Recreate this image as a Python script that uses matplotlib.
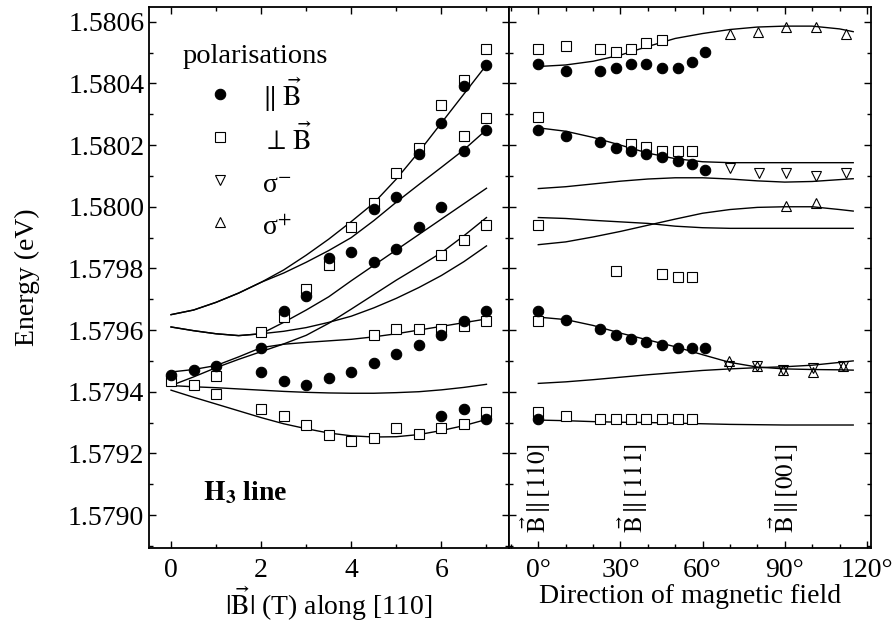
import numpy as np
import matplotlib
matplotlib.use("Agg")
import matplotlib.pyplot as plt
from matplotlib.ticker import MultipleLocator, FixedLocator

plt.rcParams['font.family'] = ['Liberation Serif', 'DejaVu Serif']
plt.rcParams['mathtext.fontset'] = 'stix'

# ---------------- left panel: field along [110] ----------------
field_grid = [0, 0.5, 1, 1.5, 2, 2.5, 3, 3.5, 4, 4.5, 5, 5.5, 6, 6.5, 7]

curve_a1 = [1.57965, 1.579665, 1.57969, 1.57972, 1.579755, 1.579795, 1.579843, 1.579895,
            1.579952, 1.580012, 1.58009, 1.580178, 1.580272, 1.580366, 1.58046]
curve_a2 = [1.57965, 1.579665, 1.57969, 1.57972, 1.579755, 1.579785, 1.57982, 1.579858,
            1.5799, 1.579955, 1.580015, 1.580072, 1.580128, 1.580185, 1.58025]
curve_s = [1.57961, 1.579598, 1.579588, 1.579582, 1.579588, 1.579625, 1.579665, 1.579708,
           1.57976, 1.57981, 1.57986, 1.57991, 1.57996, 1.58001, 1.58006]
curve_b2 = [1.57961, 1.579598, 1.579588, 1.579582, 1.579588, 1.579596, 1.579608, 1.579625,
            1.579645, 1.579672, 1.579703, 1.579738, 1.579777, 1.579822, 1.579873]
curve_r1 = [1.57942, 1.579448, 1.579478, 1.579505, 1.57953, 1.579555, 1.579583, 1.579622,
            1.579668, 1.579715, 1.579762, 1.579806, 1.579851, 1.579906, 1.579965]
curve_p = [1.579464, 1.579472, 1.579485, 1.579513, 1.579543, 1.579554, 1.57956, 1.579565,
           1.57957, 1.579578, 1.579588, 1.5796, 1.579612, 1.579624, 1.579636]
curve_e = [1.57942, 1.579416, 1.579413, 1.579409, 1.579405, 1.579401, 1.579398, 1.579396,
           1.579395, 1.579395, 1.579397, 1.5794, 1.579406, 1.579414, 1.579424]
curve_f = [1.579405, 1.579382, 1.57936, 1.579338, 1.579316, 1.579296, 1.57928, 1.579266,
           1.579257, 1.579253, 1.579254, 1.579261, 1.579274, 1.57929, 1.57931]
left_curves = [curve_a1, curve_a2, curve_s, curve_b2, curve_r1, curve_p, curve_e, curve_f]

par_field = [0, 0.5, 1, 2, 2, 2.5, 2.5, 3, 3, 3.5, 3.5, 4, 4,
             4.5, 4.5, 4.5, 5, 5, 5, 5.5, 5.5, 5.5,
             6, 6, 6, 6, 6.5, 6.5, 6.5, 6.5, 7, 7, 7, 7]
par_energy = [1.579453, 1.579472, 1.579484, 1.579542, 1.579464, 1.579663, 1.579434,
              1.579712, 1.579423, 1.579833, 1.579443, 1.579852, 1.579464,
              1.579992, 1.57982, 1.579493, 1.580032, 1.579863, 1.579521,
              1.580172, 1.579933, 1.579553,
              1.580272, 1.58, 1.579583, 1.579322,
              1.580392, 1.58018, 1.579631, 1.579343,
              1.58046, 1.58025, 1.579661, 1.579311]

perp_field = [0, 0.5, 1, 1, 2, 2, 2.5, 2.5, 3, 3, 3.5, 3.5, 4, 4,
              4.5, 4.5, 4.5, 5, 5, 5, 5.5, 5.5, 5.5,
              6, 6, 6, 6, 6.5, 6.5, 6.5, 6.5, 6.5, 7, 7, 7, 7, 7]
perp_energy = [1.579434, 1.579423, 1.579451, 1.579391, 1.579594, 1.579343,
               1.579642, 1.579322, 1.579733, 1.579292, 1.579811, 1.57926,
               1.579933, 1.579241,
               1.580013, 1.579583, 1.579251, 1.58011, 1.579602, 1.579281,
               1.580191, 1.579602, 1.579262,
               1.580331, 1.579842, 1.579604, 1.579283,
               1.580412, 1.580231, 1.579892, 1.579613, 1.579294,
               1.580511, 1.580288, 1.57994, 1.579631, 1.579333]

# ---------------- right panel: field direction ----------------
angle_grid = [0, 10, 20, 30, 40, 50, 60, 70, 80, 90, 100, 110, 115]
curve_t1 = [1.580455, 1.58046, 1.580472, 1.580492, 1.58052, 1.580546, 1.580562, 1.580575,
            1.580583, 1.580586, 1.580586, 1.580577, 1.580568]
curve_t2 = [1.580256, 1.580245, 1.580225, 1.5802, 1.580174, 1.580156, 1.580146, 1.580143,
            1.580143, 1.580143, 1.580143, 1.580143, 1.580143]
curve_t3 = [1.580059, 1.580065, 1.580074, 1.580083, 1.58009, 1.580094, 1.580094, 1.58009,
            1.580084, 1.58008, 1.580082, 1.580088, 1.580091]
curve_u = [1.579965, 1.579962, 1.579956, 1.579951, 1.579946, 1.579937, 1.579932, 1.57993,
           1.57993, 1.57993, 1.57993, 1.57993, 1.57993]
curve_v = [1.579877, 1.579886, 1.579902, 1.57992, 1.57994, 1.57996, 1.579979, 1.579991,
           1.579998, 1.58, 1.58, 1.579991, 1.579986]
curve_w = [1.579642, 1.579634, 1.579615, 1.57959, 1.579568, 1.579546, 1.57952, 1.579495,
           1.57948, 1.579474, 1.579472, 1.579471, 1.57947]
curve_x = [1.579427, 1.579432, 1.579439, 1.579447, 1.579455, 1.579462, 1.579469, 1.579474,
           1.579478, 1.579481, 1.579486, 1.579495, 1.5795]
curve_y = [1.579308, 1.579306, 1.579303, 1.579301, 1.5793, 1.579298, 1.579296, 1.579294,
           1.579293, 1.579292, 1.579292, 1.579292, 1.579292]
right_curves = [curve_t1, curve_t2, curve_t3, curve_u, curve_v, curve_w, curve_x, curve_y]

rpar_angle = [0, 10, 22.7, 28.2, 34, 39.2, 45, 51, 56, 61,
              0, 10, 22.7, 28.2, 34, 39.2, 45, 51, 56, 61,
              0, 10, 22.7, 28.2, 34, 39.2, 45, 51, 56, 61, 0]
rpar_energy = [1.580462, 1.580441, 1.580441, 1.580451, 1.580462, 1.580462, 1.580451, 1.580451, 1.580471, 1.580501,
               1.58025, 1.580231, 1.58021, 1.580189, 1.58018, 1.58017, 1.580161, 1.58015, 1.58014, 1.580119,
               1.579663, 1.579633, 1.579602, 1.579583, 1.579572, 1.579561, 1.579553, 1.579542, 1.579542, 1.579542,
               1.579311]

rperp_angle = [0, 10, 22.7, 28.2, 34, 39.2, 45,
               0, 34, 39.2, 45, 51, 56,
               0, 28.2, 45, 51, 56,
               0,
               0, 10, 22.7, 28.2, 34, 39.2, 45, 51, 56]
rperp_energy = [1.580511, 1.580522, 1.580511, 1.580501, 1.580511, 1.58053, 1.580541,
                1.58029, 1.580204, 1.580193, 1.58018, 1.58018, 1.58018,
                1.57994, 1.579793, 1.579782, 1.579773, 1.579773,
                1.579631,
                1.579335, 1.579322, 1.579311, 1.579311, 1.579311, 1.579311, 1.579311, 1.579311, 1.579311]

sigma_plus_angle = [70, 80.2, 90.4, 101.4, 112.3, 90.4, 101.4, 69.7, 80, 89.4, 100.5, 111.4]
sigma_plus_energy = [1.580562, 1.580566, 1.580582, 1.580582, 1.580562, 1.580002, 1.580013,
                     1.5795, 1.579482, 1.579472, 1.579465, 1.579482]
sigma_minus_angle = [70, 80.5, 90.6, 101.4, 112.3, 69.7, 80, 89.4, 100.5, 111.4]
sigma_minus_energy = [1.580127, 1.58011, 1.58011, 1.5801, 1.58011,
                      1.579484, 1.579482, 1.579472, 1.579476, 1.579482]

direction_labels = [r'$\vec{\mathrm{B}}\,\Vert\,[110]$', r'$\vec{\mathrm{B}}\,\Vert\,[111]$',
                    r'$\vec{\mathrm{B}}\,\Vert\,[001]$']
direction_angles = [-1.0, 34.5, 89.8]

legend_title = 'polarisations'
legend_labels = [r'$\Vert\;\vec{\mathrm{B}}$', r'$\perp\,\vec{\mathrm{B}}$', 'σ$^{-}$', 'σ$^{+}$']

# ---------------- drawing ----------------
W, H = 896, 621
fig = plt.figure(figsize=(W / 100, H / 100), dpi=100)
ax1 = fig.add_axes([148.5 / W, 1 - 548 / H, (509 - 148.5) / W, (548 - 6.7) / H])
ax2 = fig.add_axes([509 / W, 1 - 548 / H, (871 - 509) / W, (548 - 6.7) / H], sharey=ax1)

ylim = (1.578893, 1.580649)
line_kw = dict(color='black', lw=1.0)
circ_kw = dict(ls='none', marker='o', ms=7.5, mfc='black', mec='black', mew=0.8)
sq_kw = dict(ls='none', marker='s', ms=6.5, mfc='white', mec='black', mew=0.8)
tu_kw = dict(ls='none', marker='^', ms=7.5, mfc='none', mec='black', mew=0.8)
td_kw = dict(ls='none', marker='v', ms=7.5, mfc='none', mec='black', mew=0.8)

for c in left_curves:
    ax1.plot(field_grid, c, **line_kw)
h_perp, = ax1.plot(perp_field, perp_energy, **sq_kw)
h_par, = ax1.plot(par_field, par_energy, **circ_kw)

for c in right_curves:
    ax2.plot(angle_grid, c, **line_kw)
ax2.plot(rperp_angle, rperp_energy, **sq_kw)
ax2.plot(rpar_angle, rpar_energy, **circ_kw)
h_sp, = ax2.plot(sigma_plus_angle, sigma_plus_energy, **tu_kw)
h_sm, = ax2.plot(sigma_minus_angle, sigma_minus_energy, **td_kw)

fs = 20
ax1.set_xlim(-0.5, 7.5)
ax1.set_ylim(*ylim)
ax2.set_xlim(-10.7, 121.5)

ax1.xaxis.set_major_locator(FixedLocator([0, 2, 4, 6]))
ax1.xaxis.set_minor_locator(MultipleLocator(1))
ax1.yaxis.set_major_locator(MultipleLocator(0.0002))
ax1.yaxis.set_minor_locator(MultipleLocator(0.0001))
ax1.yaxis.set_major_formatter(matplotlib.ticker.FormatStrFormatter('%.4f'))
ax2.xaxis.set_major_locator(FixedLocator([0, 30, 60, 90, 120]))
ax2.xaxis.set_minor_locator(MultipleLocator(10))
ax2.xaxis.set_major_formatter(matplotlib.ticker.FuncFormatter(lambda v, p: f'{int(round(v))}°'))

for ax in (ax1, ax2):
    ax.tick_params(which='both', direction='in', top=True, right=True, left=True, bottom=True,
                   labelsize=fs, width=1.0)
    ax.tick_params(which='major', length=5)
    ax.tick_params(which='minor', length=3)
    for s in ax.spines.values():
        s.set_linewidth(1.3)
ax2.tick_params(labelleft=False)
ax1.tick_params(axis='y', pad=3)
ax1.tick_params(axis='x', pad=7)
ax2.tick_params(axis='x', pad=7)

ax1.set_ylabel('Energy (eV)', fontsize=fs, labelpad=20)
ax1.set_xlabel(r'$|\vec{\mathrm{B}}|$ (T) along [110]', fontsize=fs, labelpad=1)
ax2.set_xlabel('Direction of magnetic field', fontsize=fs, labelpad=1)

ax1.text(0.72, 1.579071, r'$\mathbf{H_3}$ line', fontsize=fs, fontweight='bold', va='center', ha='left')

for lab, ang in zip(direction_labels, direction_angles):
    ax2.text(ang, 1.578942, lab, rotation=90, fontsize=18, ha='center', va='bottom')

ax1.text(0.0957, 0.896, legend_title, transform=ax1.transAxes, fontsize=20.5,
         ha='left', va='baseline')
leg = ax1.legend([h_par, h_perp, h_sm, h_sp], legend_labels,
                 loc='upper left', bbox_to_anchor=(0.098, 0.872), frameon=False,
                 fontsize=20, handlelength=2.6, handleheight=1.45,
                 handletextpad=0.2, labelspacing=0.34, borderpad=0, borderaxespad=0)

fig.savefig('out.png', dpi=100)
